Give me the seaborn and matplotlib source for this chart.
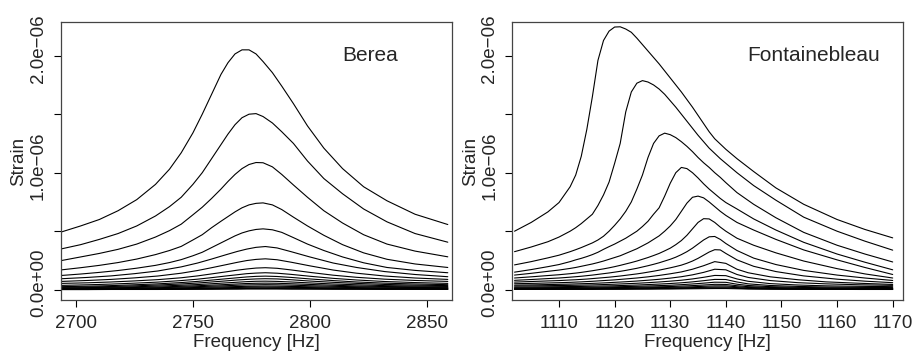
import matplotlib
matplotlib.use("Agg")
from matplotlib import pyplot as plt
from matplotlib.transforms import ScaledTranslation
import seaborn as sns
import pandas as pd

# %%
# Berea: strain curves (units of 1e-6).
# The tall curves are read on a finer frequency grid than the small ones.
berea_freq_fine = [2694, 2702, 2710, 2718, 2726, 2734, 2740, 2745, 2750, 2754, 2758, 2762, 2765, 2768,
                   2771, 2774, 2777, 2780, 2784, 2788, 2793, 2799, 2806, 2814, 2823, 2833, 2845, 2859]
berea_strain_top = [
    [0.495, 0.545, 0.60, 0.675, 0.77, 0.90, 1.03, 1.17, 1.34, 1.50, 1.67, 1.84, 1.94, 2.015,
     2.05, 2.05, 2.015, 1.95, 1.855, 1.74, 1.59, 1.40, 1.21, 1.035, 0.88, 0.76, 0.645, 0.557],
    [0.35, 0.385, 0.43, 0.48, 0.545, 0.63, 0.71, 0.79, 0.90, 1.0, 1.12, 1.24, 1.33, 1.41,
     1.47, 1.50, 1.505, 1.48, 1.425, 1.35, 1.25, 1.10, 0.95, 0.82, 0.69, 0.58, 0.48, 0.406],
    [0.25, 0.28, 0.31, 0.345, 0.39, 0.45, 0.505, 0.56, 0.64, 0.705, 0.78, 0.86, 0.925, 0.985,
     1.035, 1.07, 1.087, 1.085, 1.05, 0.985, 0.895, 0.79, 0.675, 0.57, 0.47, 0.39, 0.33, 0.281],
    [0.17, 0.188, 0.208, 0.232, 0.262, 0.30, 0.335, 0.37, 0.425, 0.47, 0.53, 0.585, 0.625, 0.665,
     0.70, 0.725, 0.738, 0.742, 0.725, 0.685, 0.62, 0.545, 0.465, 0.385, 0.315, 0.26, 0.22, 0.19],
    [0.122, 0.134, 0.148, 0.164, 0.184, 0.208, 0.232, 0.257, 0.29, 0.32, 0.36, 0.40, 0.43, 0.46,
     0.485, 0.503, 0.515, 0.52, 0.512, 0.49, 0.445, 0.39, 0.335, 0.28, 0.23, 0.19, 0.165, 0.145],
]
berea_freq = [2694, 2705, 2715, 2725, 2735, 2745, 2752, 2758, 2764, 2769, 2773,
              2777, 2781, 2786, 2792, 2800, 2810, 2820, 2832, 2845, 2859]
berea_strain_low = [
    [0.094, 0.105, 0.118, 0.137, 0.16, 0.195, 0.228, 0.262, 0.298, 0.327, 0.347, 0.362, 0.369, 0.357, 0.325, 0.28, 0.228, 0.19, 0.155, 0.13, 0.111],
    [0.071, 0.079, 0.088, 0.101, 0.117, 0.141, 0.164, 0.188, 0.213, 0.234, 0.249, 0.259, 0.264, 0.256, 0.235, 0.204, 0.168, 0.141, 0.117, 0.1, 0.088],
    [0.054, 0.059, 0.066, 0.075, 0.086, 0.102, 0.118, 0.135, 0.152, 0.167, 0.177, 0.185, 0.188, 0.183, 0.169, 0.148, 0.124, 0.106, 0.09, 0.079, 0.071],
    [0.037, 0.042, 0.048, 0.056, 0.065, 0.078, 0.09, 0.103, 0.117, 0.128, 0.137, 0.142, 0.145, 0.141, 0.131, 0.115, 0.097, 0.083, 0.07, 0.061, 0.054],
    [0.026, 0.03, 0.035, 0.042, 0.05, 0.061, 0.071, 0.082, 0.093, 0.102, 0.109, 0.114, 0.116, 0.113, 0.105, 0.092, 0.078, 0.066, 0.056, 0.049, 0.043],
    [0.02, 0.023, 0.027, 0.033, 0.04, 0.049, 0.057, 0.066, 0.075, 0.083, 0.088, 0.092, 0.094, 0.092, 0.085, 0.074, 0.063, 0.054, 0.045, 0.039, 0.035],
    [0.015, 0.018, 0.021, 0.025, 0.031, 0.038, 0.044, 0.051, 0.058, 0.064, 0.069, 0.072, 0.073, 0.071, 0.066, 0.058, 0.049, 0.042, 0.035, 0.031, 0.028],
    [0.011, 0.013, 0.016, 0.019, 0.023, 0.029, 0.034, 0.039, 0.044, 0.049, 0.053, 0.055, 0.056, 0.055, 0.051, 0.045, 0.038, 0.032, 0.027, 0.024, 0.022],
    [0.008, 0.01, 0.012, 0.014, 0.017, 0.022, 0.026, 0.03, 0.034, 0.038, 0.041, 0.042, 0.043, 0.042, 0.039, 0.034, 0.029, 0.025, 0.021, 0.019, 0.017],
    [0.006, 0.007, 0.008, 0.01, 0.012, 0.016, 0.019, 0.022, 0.025, 0.027, 0.029, 0.03, 0.031, 0.03, 0.028, 0.025, 0.021, 0.018, 0.015, 0.014, 0.013],
    [0.004, 0.005, 0.006, 0.007, 0.009, 0.011, 0.013, 0.015, 0.017, 0.019, 0.021, 0.022, 0.022, 0.021, 0.02, 0.018, 0.015, 0.013, 0.011, 0.01, 0.009],
    [0.003, 0.003, 0.004, 0.005, 0.006, 0.008, 0.009, 0.011, 0.012, 0.013, 0.014, 0.015, 0.015, 0.015, 0.014, 0.012, 0.01, 0.009, 0.008, 0.007, 0.006],
    [0.002, 0.002, 0.003, 0.003, 0.004, 0.005, 0.006, 0.007, 0.008, 0.009, 0.01, 0.01, 0.01, 0.01, 0.009, 0.008, 0.007, 0.006, 0.005, 0.005, 0.004],
    [0.001, 0.001, 0.002, 0.002, 0.002, 0.003, 0.004, 0.004, 0.005, 0.005, 0.006, 0.006, 0.006, 0.006, 0.005, 0.005, 0.004, 0.004, 0.003, 0.003, 0.003],
]

# Fontainebleau
fb_freq_fine = [1102, 1105, 1108, 1110, 1112, 1113, 1114, 1115, 1116, 1117, 1118, 1119, 1120, 1121,
                1122, 1123, 1124, 1125, 1126, 1127, 1128, 1129, 1130, 1131, 1132, 1133, 1134, 1135,
                1136, 1137, 1138, 1139, 1140, 1142, 1145, 1149, 1154, 1160, 1165, 1170]
fb_strain_top = [
    [0.50, 0.575, 0.665, 0.745, 0.88, 0.98, 1.14, 1.37, 1.65, 1.96, 2.13, 2.21, 2.245, 2.247,
     2.228, 2.2, 2.15, 2.095, 2.04, 1.985, 1.93, 1.87, 1.81, 1.75, 1.69, 1.625, 1.56, 1.49,
     1.42, 1.35, 1.29, 1.245, 1.20, 1.12, 1.01, 0.87, 0.73, 0.60, 0.515, 0.443],
    [0.325, 0.365, 0.41, 0.45, 0.50, 0.53, 0.565, 0.605, 0.645, 0.72, 0.81, 0.92, 1.08, 1.25,
     1.52, 1.69, 1.765, 1.787, 1.775, 1.75, 1.715, 1.67, 1.615, 1.56, 1.50, 1.44, 1.38, 1.32,
     1.265, 1.21, 1.165, 1.12, 1.08, 1.0, 0.89, 0.765, 0.62, 0.5, 0.415, 0.338],
    [0.212, 0.24, 0.272, 0.295, 0.325, 0.342, 0.36, 0.38, 0.40, 0.425, 0.457, 0.50, 0.55, 0.605,
     0.67, 0.75, 0.86, 0.98, 1.13, 1.25, 1.315, 1.338, 1.325, 1.30, 1.265, 1.225, 1.18, 1.13,
     1.085, 1.045, 1.0, 0.96, 0.915, 0.83, 0.73, 0.615, 0.49, 0.38, 0.305, 0.237],
    [0.15, 0.172, 0.197, 0.215, 0.24, 0.255, 0.268, 0.283, 0.30, 0.32, 0.345, 0.368, 0.39, 0.415,
     0.44, 0.47, 0.50, 0.54, 0.585, 0.645, 0.70, 0.80, 0.91, 1.0, 1.045, 1.035, 1.0, 0.955,
     0.905, 0.86, 0.82, 0.78, 0.745, 0.69, 0.605, 0.51, 0.405, 0.305, 0.235, 0.17],
    [0.125, 0.14, 0.157, 0.168, 0.182, 0.19, 0.20, 0.21, 0.22, 0.232, 0.245, 0.26, 0.275, 0.29,
     0.31, 0.33, 0.35, 0.375, 0.40, 0.43, 0.46, 0.50, 0.545, 0.60, 0.67, 0.74, 0.79, 0.80,
     0.785, 0.75, 0.71, 0.67, 0.635, 0.575, 0.51, 0.43, 0.34, 0.255, 0.19, 0.13],
    [0.10, 0.11, 0.121, 0.128, 0.137, 0.142, 0.148, 0.155, 0.162, 0.17, 0.178, 0.187, 0.197, 0.208,
     0.22, 0.232, 0.245, 0.26, 0.275, 0.292, 0.31, 0.332, 0.355, 0.385, 0.42, 0.465, 0.52, 0.575,
     0.607, 0.605, 0.575, 0.535, 0.50, 0.44, 0.38, 0.315, 0.245, 0.18, 0.135, 0.10],
    [0.08, 0.087, 0.095, 0.10, 0.107, 0.111, 0.115, 0.12, 0.125, 0.131, 0.137, 0.143, 0.15, 0.157,
     0.165, 0.174, 0.183, 0.194, 0.205, 0.217, 0.23, 0.245, 0.26, 0.278, 0.30, 0.325, 0.355, 0.39,
     0.425, 0.452, 0.455, 0.43, 0.395, 0.335, 0.27, 0.215, 0.165, 0.125, 0.10, 0.079],
    [0.065, 0.07, 0.075, 0.078, 0.083, 0.085, 0.088, 0.091, 0.095, 0.099, 0.103, 0.107, 0.112, 0.117,
     0.123, 0.129, 0.135, 0.142, 0.15, 0.158, 0.167, 0.177, 0.187, 0.198, 0.21, 0.226, 0.245, 0.268,
     0.295, 0.322, 0.342, 0.34, 0.31, 0.255, 0.2, 0.155, 0.118, 0.09, 0.073, 0.06],
]
fb_freq = [1102, 1106, 1110, 1112, 1114, 1116, 1118, 1120, 1122, 1124, 1126, 1128, 1130,
           1132, 1134, 1136, 1138, 1140, 1142, 1144, 1148, 1153, 1158, 1164, 1170]
fb_strain_low = [
    [0.051, 0.055, 0.06, 0.063, 0.067, 0.072, 0.078, 0.084, 0.092, 0.1, 0.11, 0.122, 0.136, 0.152, 0.175, 0.205, 0.24, 0.225, 0.175, 0.145, 0.11, 0.085, 0.067, 0.055, 0.045],
    [0.039, 0.042, 0.046, 0.048, 0.051, 0.054, 0.058, 0.063, 0.068, 0.074, 0.081, 0.089, 0.099, 0.111, 0.127, 0.148, 0.175, 0.17, 0.13, 0.105, 0.078, 0.06, 0.05, 0.042, 0.037],
    [0.031, 0.033, 0.036, 0.037, 0.039, 0.041, 0.044, 0.047, 0.051, 0.055, 0.06, 0.066, 0.073, 0.081, 0.092, 0.106, 0.122, 0.12, 0.092, 0.072, 0.052, 0.04, 0.033, 0.029, 0.026],
    [0.022, 0.024, 0.026, 0.027, 0.028, 0.03, 0.032, 0.034, 0.037, 0.04, 0.044, 0.048, 0.053, 0.059, 0.067, 0.077, 0.088, 0.087, 0.066, 0.05, 0.036, 0.028, 0.023, 0.02, 0.018],
    [0.016, 0.017, 0.018, 0.019, 0.02, 0.021, 0.023, 0.025, 0.027, 0.029, 0.032, 0.035, 0.038, 0.043, 0.049, 0.056, 0.064, 0.063, 0.047, 0.036, 0.026, 0.02, 0.016, 0.014, 0.013],
    [0.011, 0.012, 0.013, 0.014, 0.014, 0.015, 0.017, 0.018, 0.019, 0.021, 0.023, 0.025, 0.027, 0.031, 0.035, 0.04, 0.046, 0.045, 0.034, 0.026, 0.019, 0.014, 0.012, 0.01, 0.009],
    [0.008, 0.009, 0.009, 0.01, 0.01, 0.011, 0.012, 0.013, 0.014, 0.015, 0.017, 0.018, 0.02, 0.022, 0.025, 0.029, 0.033, 0.033, 0.025, 0.019, 0.014, 0.01, 0.009, 0.007, 0.007],
    [0.006, 0.006, 0.007, 0.007, 0.007, 0.008, 0.008, 0.009, 0.01, 0.011, 0.012, 0.013, 0.014, 0.016, 0.018, 0.02, 0.023, 0.023, 0.018, 0.013, 0.01, 0.007, 0.006, 0.005, 0.005],
    [0.004, 0.004, 0.005, 0.005, 0.005, 0.005, 0.006, 0.006, 0.007, 0.007, 0.008, 0.009, 0.01, 0.011, 0.012, 0.014, 0.016, 0.016, 0.012, 0.009, 0.007, 0.005, 0.004, 0.004, 0.003],
    [0.003, 0.003, 0.003, 0.003, 0.003, 0.003, 0.004, 0.004, 0.004, 0.005, 0.005, 0.006, 0.006, 0.007, 0.008, 0.009, 0.01, 0.01, 0.008, 0.006, 0.004, 0.003, 0.003, 0.002, 0.002],
]

panel_names = ["Berea", "Fontainebleau"]
y_ticks = [0.0, 0.5e-6, 1.0e-6, 1.5e-6, 2.0e-6]
y_ticklabels = ["0.0e+00", "", "1.0e\u221206", "", "2.0e\u221206"]
berea_xticks = [2700, 2750, 2800, 2850]
fb_xticks = [1110, 1120, 1130, 1140, 1150, 1160, 1170]


def to_long(groups):
    rows = []
    cid = 0
    for freq, curves in groups:
        for c in curves:
            for f, s in zip(freq, c):
                rows.append({"freq": f, "strain": s * 1e-6, "curve": cid})
            cid += 1
    return pd.DataFrame(rows)


# %%
sns.set_style("ticks")
plt.rcParams['font.family'] = ['Liberation Sans', 'DejaVu Sans']

fig = plt.figure(figsize=(9.22, 3.51), dpi=100)
ax1 = fig.add_axes([61 / 922, 51 / 351, 391 / 922, 278 / 351])
ax2 = fig.add_axes([512.3 / 922, 51 / 351, 390.4 / 922, 278 / 351])

panels = [
    (ax1, to_long([(berea_freq_fine, berea_strain_top), (berea_freq, berea_strain_low)]),
     berea_xticks, (2693.6, 2860.8), 0.79),
    (ax2, to_long([(fb_freq_fine, fb_strain_top), (fb_freq, fb_strain_low)]),
     fb_xticks, (1101.6, 1171.8), 0.773),
]

for (ax, df, xt, xlim, tx), name in zip(panels, panel_names):
    sns.lineplot(data=df, x="freq", y="strain", units="curve", estimator=None,
                 color="black", lw=0.8, sort=False, ax=ax, legend=False)
    ax.set_xlim(*xlim)
    ax.set_ylim(-0.088e-6, 2.288e-6)
    ax.set_xticks(xt)
    ax.set_xticklabels([str(v) for v in xt])
    ax.set_yticks(y_ticks)
    ax.set_yticklabels(y_ticklabels, rotation=90, va="center")
    ax.tick_params(axis="both", direction="out", length=5, width=0.8,
                   labelsize=13.5, pad=5, color="black")
    ax.tick_params(axis="x", pad=6)
    # rotated labels sit a little above their tick, as in the original
    for lab in ax.get_yticklabels():
        lab.set_transform(lab.get_transform() + ScaledTranslation(0, 7 / 100, fig.dpi_scale_trans))
    for sp in ax.spines.values():
        sp.set_visible(True)
        sp.set_color("#444444")
        sp.set_linewidth(0.9)
    ax.set_xlabel("Frequency [Hz]", fontsize=13.5, labelpad=1)
    ax.set_ylabel("Strain", fontsize=13.5, labelpad=2)
    ax.text(tx, 0.881, name, transform=ax.transAxes, fontsize=15, ha="center", va="center")
    ax.grid(False)

fig.savefig("out.png", dpi=100)
